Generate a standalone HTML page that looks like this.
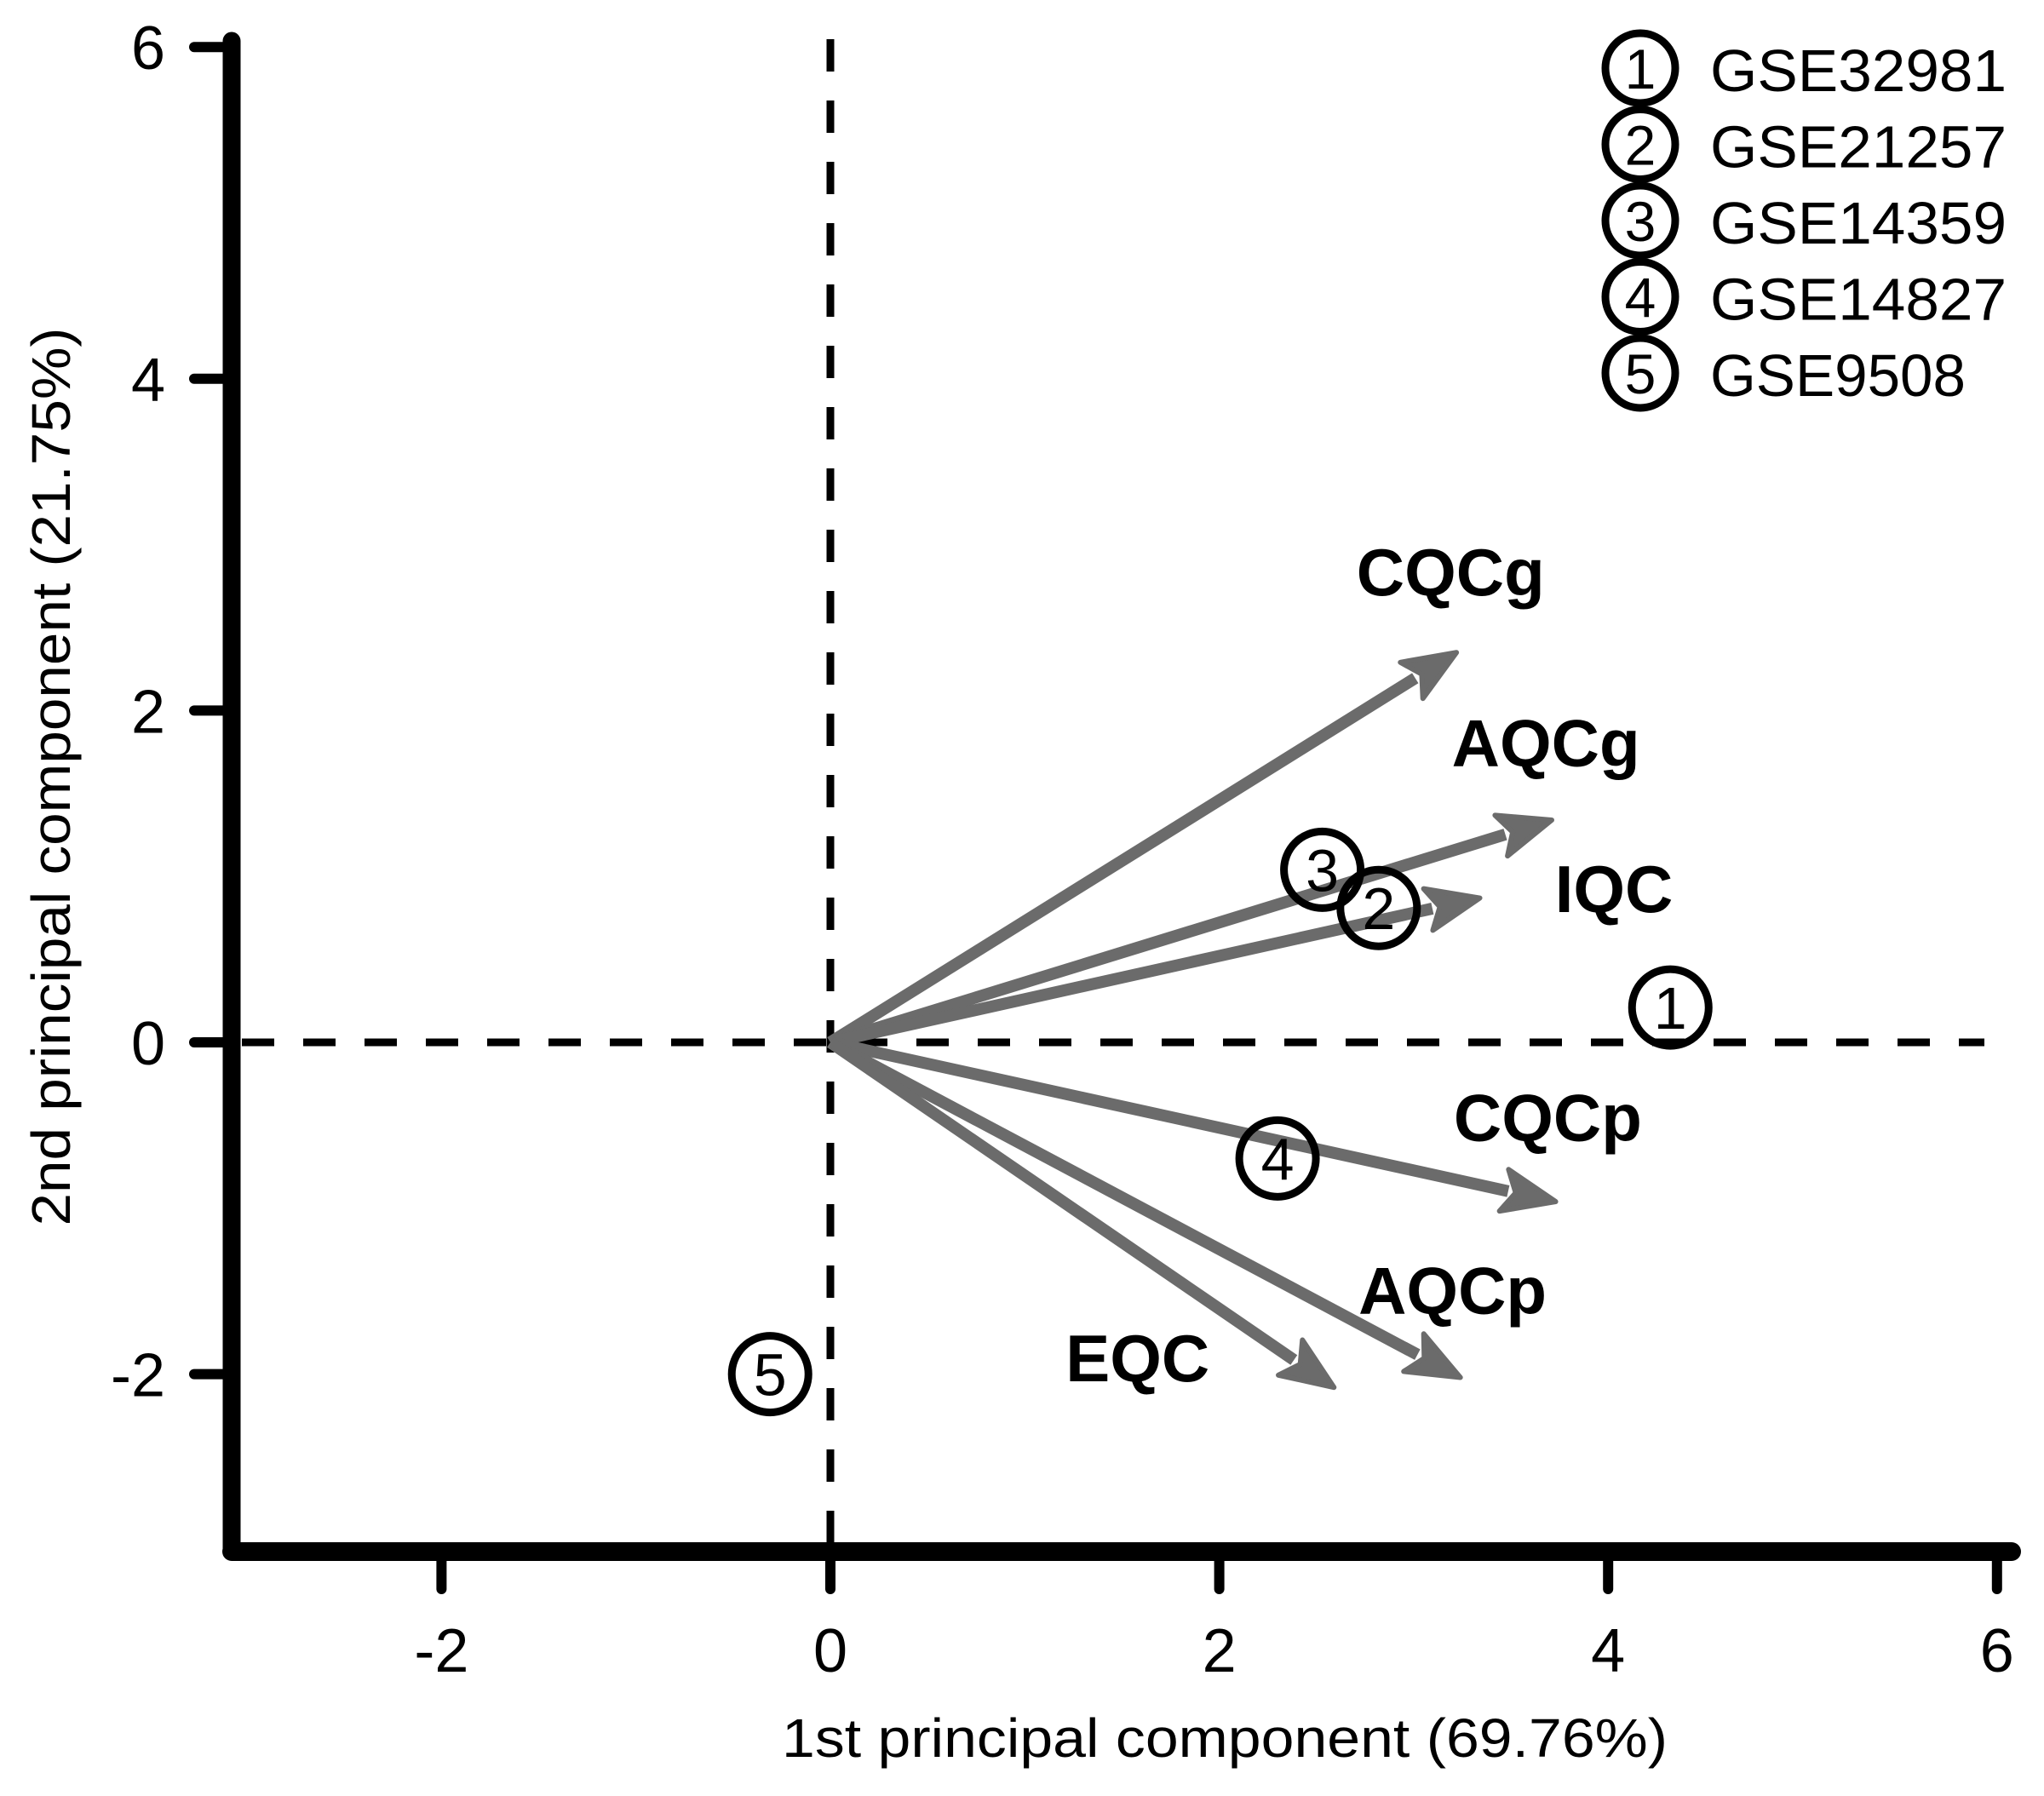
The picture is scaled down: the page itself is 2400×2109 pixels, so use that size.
<!DOCTYPE html>
<html><head><meta charset="utf-8"><style>
html,body{margin:0;padding:0;background:#fff;}
svg{display:block;}
text{font-family:"Liberation Sans",Arial,sans-serif;}
</style></head><body>
<svg id="chart" width="2400" height="2109" viewBox="0 0 2400 2109" xmlns="http://www.w3.org/2000/svg">
<g id="axes"></g>
<g id="marks"></g>
<g id="legend"></g>
</svg>
<script>
const xTicks = [-2, 0, 2, 4, 6];
const yTicks = [-2, 0, 2, 4, 6];
const varNames = ["CQCg", "AQCg", "IQC", "CQCp", "AQCp", "EQC"];
const varX = [3.22, 3.71, 3.34, 3.73, 3.24, 2.59];
const varY = [2.35, 1.34, 0.87, -0.96, -2.02, -2.08];
const labelX = [3.19, 3.68, 4.03, 3.69, 3.20, 1.58];
const labelY = [2.84, 1.81, 0.93, -0.45, -1.49, -1.90];
const sampleIds = ["1", "2", "3", "4", "5"];
const sampleNames = ["GSE32981", "GSE21257", "GSE14359", "GSE14827", "GSE9508"];
const sampleX = [4.32, 2.82, 2.53, 2.30, -0.31];
const sampleY = [0.21, 0.81, 1.04, -0.70, -2.00];

const NS = "http://www.w3.org/2000/svg";
const X0 = 975, XU = 228.3, Y0 = 1224, YU = 194.8;
const sx = v => X0 + v * XU;
const sy = v => Y0 - v * YU;
function mk(tag, attrs, parent, txt) {
  const e = document.createElementNS(NS, tag);
  for (const k in attrs) e.setAttribute(k, attrs[k]);
  if (txt !== undefined) e.textContent = txt;
  parent.appendChild(e);
  return e;
}
const axes = document.getElementById("axes");
const marks = document.getElementById("marks");
const legend = document.getElementById("legend");

let e = mk("line", {x1: sx(0), y1: 46, x2: sx(0), y2: 1815, stroke: "#000", "stroke-width": 9, "stroke-dasharray": "38 34"}, axes);


e = mk("line", {x1: 284, y1: sy(0), x2: 2330, y2: sy(0), stroke: "#000", "stroke-width": 9, "stroke-dasharray": "38 34"}, axes);



e = mk("line", {x1: 272, y1: 48, x2: 272, y2: 1822, stroke: "#000", "stroke-width": 21, "stroke-linecap": "round"}, axes);


e = mk("line", {x1: 272, y1: 1822, x2: 2362, y2: 1822, stroke: "#000", "stroke-width": 22, "stroke-linecap": "round"}, axes);



xTicks.forEach(v => {
  let t = mk("line", {x1: sx(v), y1: 1822, x2: sx(v), y2: 1866, stroke: "#000", "stroke-width": 12, "stroke-linecap": "round"}, axes);
  
  
  let l = mk("text", {x: sx(v), y: 1963, "text-anchor": "middle", "font-size": 72}, axes, String(v));
  
  
});
yTicks.forEach(v => {
  let t = mk("line", {x1: 228, y1: sy(v), x2: 272, y2: sy(v), stroke: "#000", "stroke-width": 12, "stroke-linecap": "round"}, axes);
  
  
  let l = mk("text", {x: 194, y: sy(v) + 26, "text-anchor": "end", "font-size": 72}, axes, String(v));
  
  
});
e = mk("text", {x: 1438, y: 2063, "text-anchor": "middle", "font-size": 64, textLength: 1040, lengthAdjust: "spacingAndGlyphs"}, axes, "1st principal component (69.76%)");


e = mk("text", {x: 0, y: 0, "text-anchor": "middle", "font-size": 64, textLength: 1055, lengthAdjust: "spacingAndGlyphs", transform: "translate(82,912) rotate(-90)"}, axes, "2nd principal component (21.75%)");



varNames.forEach((n, i) => {
  const x1 = sx(0), y1 = sy(0), x2 = sx(varX[i]), y2 = sy(varY[i]);
  const dx = x2 - x1, dy = y2 - y1, L = Math.hypot(dx, dy), ux = dx / L, uy = dy / L;
  const hl = 62, hw = 25;
  const bx = x2 - ux * hl, by = y2 - uy * hl;
  const g = mk("g", {}, marks);
  
  
  mk("line", {x1: x1, y1: y1, x2: bx + ux * 5, y2: by + uy * 5, stroke: "#6b6b6b", "stroke-width": 14}, g);
  mk("polygon", {points: `${x2},${y2} ${bx - uy * hw},${by + ux * hw} ${bx + ux * 14},${by + uy * 14} ${bx + uy * hw},${by - ux * hw}`, fill: "#6b6b6b", stroke: "#6b6b6b", "stroke-width": 6, "stroke-linejoin": "round"}, g);
  const t = mk("text", {x: sx(labelX[i]), y: sy(labelY[i]) + 28, "text-anchor": "middle", "font-size": 78, "font-weight": "bold"}, marks, n);
  
  
});

sampleIds.forEach((id, i) => {
  const g = mk("g", {}, marks);
  
  
  mk("circle", {cx: sx(sampleX[i]), cy: sy(sampleY[i]), r: 45, fill: "none", stroke: "#000", "stroke-width": 9}, g);
  mk("text", {x: sx(sampleX[i]), y: sy(sampleY[i]) + 25, "text-anchor": "middle", "font-size": 70}, g, id);
});

sampleIds.forEach((id, i) => {
  const cy = 80 + i * 89.5;
  const g = mk("g", {}, legend);
  
  
  mk("circle", {cx: 1926, cy: cy, r: 41, fill: "none", stroke: "#000", "stroke-width": 9}, g);
  mk("text", {x: 1926, y: cy + 24, "text-anchor": "middle", "font-size": 66}, g, id);
  mk("text", {x: 2008, y: cy + 27, "font-size": 70, textLength: sampleNames[i].length === 8 ? 348 : 300, lengthAdjust: "spacingAndGlyphs"}, g, sampleNames[i]);
});
</script>
</body></html>
